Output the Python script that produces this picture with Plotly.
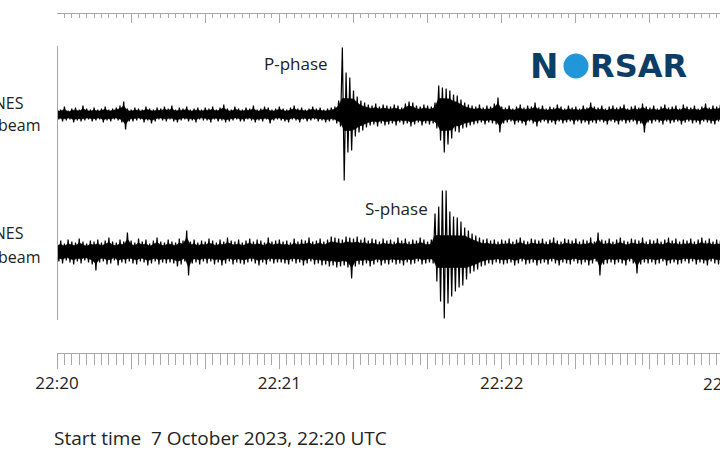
import plotly.graph_objects as go

# ---- data: per-second envelope of each beam trace (upper peak / lower peak, amplitude units)
T1_UP = [6,5,8,4,6,7,5,9,6,5, 7,5,6,8,5,6,7,9,13,6, 5,7,6,5,8,6,5,7,6,8, 6,9,5,7,6,8,5,6,7,5,
         7,6,8,5,7,10,6,5,8,6, 5,7,6,9,5,6,8,7,5,6, 8,6,5,7,9,6,7,5,6,8, 6,7,5,6,7,8,14,67,42,37,
         24,18,14,12,10,9,11,8,10,9, 8,10,9,7,11,13,12,9,8,10, 9,8,12,29,27,26,24,20,19,15,
         12,10,9,8,10,7,9,8,11,17, 8,7,9,6,8,10,7,9,8,12, 7,9,6,8,7,10,8,6,9,7,
         8,6,9,7,12,8,7,9,6,8, 9,7,8,10,6,8,9,7,11,8, 7,9,6,8,10,7,8,9,6,10, 8,7,9,6,8,11,7,9,8,10]
T1_LO = [5,7,6,5,8,6,7,6,5,7, 6,5,8,6,7,5,6,8,15,7, 7,6,5,8,6,9,7,5,6,7, 5,7,8,6,5,7,6,8,5,6,
         6,8,5,7,6,8,7,6,5,7, 7,5,6,8,6,7,5,9,6,5, 6,7,8,5,6,8,5,7,6,5, 7,6,8,7,6,9,12,66,38,36,
         22,18,16,13,11,10,12,9,11,10, 9,11,8,10,9,12,10,8,11,9, 10,9,14,26,38,30,24,17,18,14,
         13,11,10,9,8,10,8,9,10,18, 9,8,7,10,8,9,11,7,9,12, 8,7,9,8,10,7,9,8,7,10,
         7,9,8,10,8,9,7,8,10,7, 8,10,7,9,8,7,10,9,18,8, 9,7,8,10,7,9,8,7,10,8, 7,9,8,10,7,8,9,10,7,9]
T2_UP = [9,11,8,12,10,9,13,10,8,11, 10,12,9,11,14,10,9,12,10,19, 11,9,13,10,12,8,11,14,10,9,
         12,10,9,13,11,21,10,12,9,11, 10,13,11,9,12,10,14,11,10,12, 9,11,13,10,12,11,9,14,10,11,
         12,10,11,9,13,10,12,11,14,10, 11,13,10,12,15,14,13,12,15,14, 13,15,12,14,11,13,12,10,13,11,
         12,10,14,11,13,10,12,11,14,12, 10,12,38,45,61,61,40,35,34,30, 24,21,18,16,14,12,13,11,12,10,
         12,11,13,10,12,14,11,10,13,12, 11,13,10,12,14,11,10,13,12,11, 13,10,12,11,14,10,19,12,11,13,
         10,12,14,11,10,13,12,11,14,10, 12,11,13,10,12,14,11,13,10,12, 11,13,10,12,14,11,13,10,12,11]
T2_LO = [10,12,9,11,13,10,12,9,11,13, 19,11,10,13,12,9,14,11,12,10, 12,13,10,11,14,12,10,13,11,12,
         11,12,15,13,10,24,12,11,13,10, 12,10,13,11,14,12,10,13,11,12, 13,11,10,12,14,11,13,10,12,11,
         11,12,13,10,12,11,14,12,10,13, 12,14,13,15,14,16,15,14,16,27, 15,13,14,12,15,13,11,14,12,13,
         11,13,12,14,11,13,12,10,13,12, 11,12,30,50,67,52,45,40,36,34, 28,22,20,18,15,14,12,13,11,12,
         13,12,11,14,12,10,13,12,11,14, 12,11,13,10,12,14,11,12,13,10, 12,13,11,14,12,10,24,13,12,11,
         13,11,12,14,10,12,22,13,11,12, 11,13,12,10,14,12,11,13,12,10, 12,10,13,11,12,14,10,12,13,11]

TRACE_LABELS = ["FINES", "FINES"]
TICK_SECONDS = [0, 60, 120, 180]
TICK_TEXT = ["22:20", "22:21", "22:22", "22:23"]
PHASES = ["P-phase", "S-phase"]
CAPTION = "Start time  7 October 2023, 22:20 UTC"

FONT = "Open Sans"
AX = "#a8a8a8"
CORE = 0.65      # share of the envelope drawn as the dense dark core of the trace
CORE_CAP = 16    # the core never grows beyond this (amplitude units)

def zigzag(up, lo):
    t, y = [], []
    for i, (u, l) in enumerate(zip(up, lo)):
        t += [i, i + 0.5]
        y += [u, -l]
    return t, y

def core(up, lo):
    n = len(up)
    t = list(range(n)) + [i + 0.5 for i in range(n - 1, -1, -1)]
    y = [min(CORE * u, CORE_CAP) for u in up] + [-min(CORE * l, CORE_CAP) for l in lo[::-1]]
    return t, y

fig = go.Figure()
for up, lo, ya in [(T1_UP, T1_LO, "y2"), (T2_UP, T2_LO, "y")]:
    ct, cy = core(up, lo)
    fig.add_trace(go.Scatter(x=ct, y=cy, mode="lines", fill="toself", fillcolor="black",
                             line=dict(color="black", width=0.6), xaxis="x", yaxis=ya,
                             hoverinfo="skip"))
    zt, zy = zigzag(up, lo)
    fig.add_trace(go.Scatter(x=zt, y=zy, mode="lines", line=dict(color="black", width=1.2),
                             xaxis="x", yaxis=ya, hoverinfo="skip"))

H = 340.0
def py(p):  # pixel row -> paper y
    return (353 - p) / H
def px(p):  # pixel col -> paper x
    return (p - 57) / 663.0

XR = [0, 663 / 3.706]
maj = [s for s in range(0, 181, 20)]
majtext = [TICK_TEXT[TICK_SECONDS.index(s)] if s in TICK_SECONDS else "" for s in maj]

yr = [-68.5, 68.5]
ycommon = dict(range=yr, tickvals=yr, showticklabels=False, showgrid=False, zeroline=False,
               showline=True, linecolor=AX, linewidth=1, ticks="inside", ticklen=11,
               tickcolor=AX, anchor="free", position=0, fixedrange=True)

fig.update_layout(
    width=720, height=450,
    margin=dict(l=57, r=0, t=13, b=97),
    paper_bgcolor="white", plot_bgcolor="white",
    showlegend=False,
    font=dict(family=FONT, color="#222222"),
    xaxis=dict(range=XR, tickvals=maj, ticktext=majtext, showgrid=False, zeroline=False,
               showline=True, linecolor=AX, linewidth=1, ticks="outside", ticklen=15,
               tickcolor=AX, tickfont=dict(size=17, color="#222222", family=FONT),
               minor=dict(dtick=2, ticks="outside", ticklen=11, tickcolor=AX, showgrid=False),
               anchor="free", position=0),
    xaxis2=dict(range=XR, overlaying="x", side="top", tickvals=maj, showticklabels=False,
                showgrid=False, zeroline=False, showline=True, linecolor=AX, linewidth=1,
                ticks="inside", ticklen=9, tickcolor=AX,
                minor=dict(dtick=2, ticks="inside", ticklen=4, tickcolor=AX, showgrid=False),
                anchor="free", position=1),
    yaxis=dict(domain=[py(320), py(183)], **ycommon),
    yaxis2=dict(domain=[py(183), py(46)], **ycommon),
    yaxis3=dict(range=yr, tickvals=yr, overlaying="y", side="right", anchor="free", position=1,
                showticklabels=False, showgrid=False, zeroline=False, showline=False,
                ticks="inside", ticklen=7, tickcolor=AX),
    yaxis4=dict(range=yr, tickvals=yr, overlaying="y2", side="right", anchor="free", position=1,
                showticklabels=False, showgrid=False, zeroline=False, showline=False,
                ticks="inside", ticklen=7, tickcolor=AX),
)
# empty traces so the overlay axes render
fig.add_trace(go.Scatter(x=[None], y=[None], xaxis="x2", yaxis="y3", hoverinfo="skip"))
fig.add_trace(go.Scatter(x=[None], y=[None], xaxis="x2", yaxis="y4", hoverinfo="skip"))

ann = []
for lab, (yn, yb) in zip(TRACE_LABELS, [(103, 125), (233, 257)]):
    ann.append(dict(text=lab, x=px(26), y=py(yn), xref="paper", yref="paper", xanchor="right",
                    yanchor="middle", showarrow=False, font=dict(size=16, family=FONT, color="#222")))
    ann.append(dict(text="beam", x=px(42), y=py(yb), xref="paper", yref="paper", xanchor="right",
                    yanchor="middle", showarrow=False, font=dict(size=16, family=FONT, color="#222")))
for lab, (cx, cy) in zip(PHASES, [(296, 63), (396, 208)]):
    ann.append(dict(text=lab, x=px(cx), y=py(cy), xref="paper", yref="paper", xanchor="center",
                    yanchor="middle", showarrow=False, font=dict(size=17, family=FONT, color="#222")))
# last tick label, cut at the right edge
ann.append(dict(text=TICK_TEXT[3], x=px(724), y=0, xref="paper", yref="paper", xanchor="center",
                yanchor="top", yshift=-17, showarrow=False,
                font=dict(size=17, family=FONT, color="#222")))
ann.append(dict(text=CAPTION, x=px(52), y=py(438), xref="paper", yref="paper", xanchor="left",
                yanchor="middle", showarrow=False, font=dict(size=19, family=FONT, color="#222")))
NAVY = "#0c3d66"
ann.append(dict(text="<b>N</b>", x=px(560), y=py(66), xref="paper", yref="paper", xanchor="right",
                yanchor="middle", showarrow=False, font=dict(size=34, family="DejaVu Sans", color=NAVY)))
ann.append(dict(text="<b>RSAR</b>", x=px(588), y=py(66), xref="paper", yref="paper", xanchor="left",
                yanchor="middle", showarrow=False, font=dict(size=32, family="DejaVu Sans", color=NAVY)))
fig.update_layout(annotations=ann)
fig.add_shape(type="circle", xref="paper", yref="paper", xsizemode="pixel", ysizemode="pixel",
              xanchor=px(576), yanchor=py(66), x0=-12.5, x1=12.5, y0=-12.5, y1=12.5,
              fillcolor="#2196d8", line=dict(width=0))

fig.write_html("out.html", config={"displayModeBar": False},
               post_script="document.body.style.margin='0';")
